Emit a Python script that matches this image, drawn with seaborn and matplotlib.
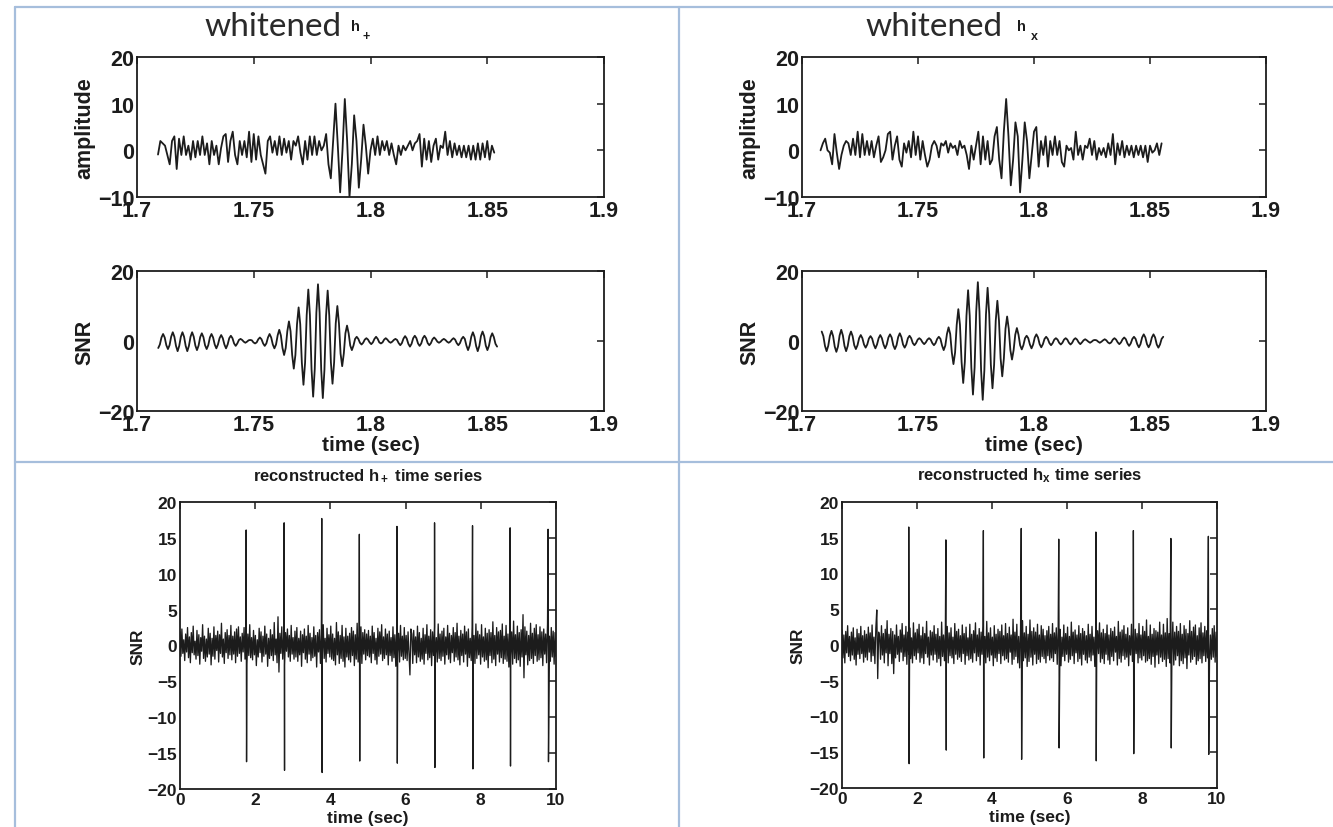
import numpy as np
import pandas as pd
import matplotlib
matplotlib.use("Agg")
import matplotlib.pyplot as plt
import seaborn as sns
from matplotlib.lines import Line2D

# ------------------------------------------------------------------ data
# whitened h+ amplitude, sampled every 1 ms from 1.709 s
amp_plus_t0 = 1.709
amp_plus_dt = 0.001
amp_plus = [
    -0.9, 2.0, 1.5, 1.0, -1.0, -3.0, 2.0, 3.0, -4.0, 2.5,
    -1.0, 3.0, -1.0, 1.0, -2.0, 2.0, -1.5, 2.0, -1.0, 3.0,
    -1.0, 1.5, -3.0, 2.0, -1.0, 1.0, -3.0, 0.5, 3.0, 3.5,
    -2.5, 2.0, 4.0, -1.0, -3.0, 2.0, -1.0, 2.0, -1.5, 4.0,
    -2.5, 3.5, -2.0, 3.0, -1.0, -3.0, -5.0, 2.0, 3.0, -0.5,
    2.0, -1.0, 3.0, -1.0, 2.5, -0.5, 2.0, -2.0, 2.0, 1.0,
    3.0, -0.5, -3.0, 2.0, -2.0, 3.0, -1.0, 3.0, -1.0, 2.0,
    0.0, 1.0, 3.5, -3.0, -6.0, 2.0, 10.0, 1.0, -9.0, 0.0,
    11.0, 2.0, -10.0, -3.0, 7.5, 2.0, -8.0, -2.0, 5.5, 1.0,
    -5.0, 0.0, 2.5, -1.0, 3.0, -1.0, 2.0, 0.0, 2.0, -1.0,
    1.5, -1.0, -3.0, 1.0, -1.0, 1.0, 0.0, 1.0, 2.0, 0.0,
    1.5, 2.0, 3.5, -3.5, 2.5, -2.0, 2.0, -2.5, 1.0, 2.5,
    -2.0, 1.0, 0.5, 4.0, -1.0, 2.0, -1.5, 1.5, -1.0, 1.0,
    -1.5, 1.0, -1.5, 1.0, -2.0, 1.0, -2.0, 1.5, -2.0, 1.5,
    -1.5, 2.0, -2.0, 1.0, -0.5,
]

# whitened hx amplitude, sampled every 1 ms from 1.708 s
amp_cross_t0 = 1.708
amp_cross_dt = 0.001
amp_cross = [
    0.0, 1.5, 2.5, 0.0, -0.5, -3.0, 3.5, -0.5, -4.0, -1.0,
    1.0, 2.0, 1.5, -1.0, 2.5, -1.0, 4.0, -1.5, 3.5, -1.0,
    2.0, -1.0, 2.0, -1.5, 1.0, 3.0, -2.5, -1.5, 0.0, 3.5,
    4.0, -2.0, 1.0, 3.0, -2.0, -3.5, 1.5, -0.5, 2.0, -1.5,
    4.0, -1.0, 3.0, -2.0, 2.0, -1.0, -3.5, -2.0, 1.0, 2.0,
    1.0, -1.5, 1.5, 1.0, 2.0, -0.5, 1.5, 0.5, 1.0, -1.0,
    2.0, 0.5, 1.0, -1.0, -4.0, 1.0, -2.0, 1.0, 4.0, -3.0,
    3.0, -2.0, 2.0, -3.0, -2.0, 3.0, 5.0, -2.0, -6.0, 4.0,
    11.0, 3.0, -7.5, -2.0, 6.0, 3.0, -9.0, -2.0, 6.0, 2.0,
    -6.0, -1.0, 4.0, 5.0, -3.5, 2.0, -1.0, 3.0, -3.5, 2.0,
    -1.0, 3.0, -1.0, 2.0, -2.5, -3.5, 1.0, 0.0, 0.5, -2.0,
    4.0, -1.0, 1.0, -2.0, 1.0, 0.5, 2.5, -1.0, 2.0, -2.0,
    0.5, -1.0, 0.5, -1.5, 1.5, -1.0, 3.5, -3.0, 1.5, -1.0,
    2.0, -1.5, 1.0, -1.0, 1.0, -1.5, 1.0, -1.0, 1.0, -1.5,
    1.0, -2.5, 1.0, -0.5, 0.0, 1.5, -1.0, 1.5,
]

# SNR (matched filter output) for h+
snr_plus_t0 = 1.7091
snr_plus_dt = 0.000691
snr_plus = [
    -2.0, -1.0,
    1.0, 2.0, 1.0, -1.2, -2.3, -1.2, 1.2, 2.5, 1.2, -1.4, -2.9, -1.4,
    1.2, 2.5, 1.2, -1.4, -2.9, -1.4, 1.2, 2.5, 1.2, -1.3, -2.6, -1.3,
    1.1, 2.2, 1.1, -1.2, -2.3, -1.2, 1.0, 2.0, 1.0, -1.0, -2.1, -1.0,
    0.8, 1.7, 0.8, -1.0, -2.1, -1.0, 0.8, 1.5, 0.8, -0.7, -1.4, -0.7,
    0.3, 0.6, 0.3, -0.2, -0.5, -0.2, 0.2, 0.3, 0.2, -0.4, -0.7, -0.4,
    0.5, 1.0, 0.5, -0.7, -1.4, -0.7, 1.0, 2.0, 1.0, -1.0, -2.1, -1.0,
    1.6, 3.2, 1.6, -2.0, -4.0, -2.0, 2.8, 5.6, 2.8, -4.0, -7.9, -4.0,
    4.8, 9.6, 4.8, -6.2, -12.5, -6.2, 7.4, 14.7, 7.4, -8.0, -15.9, -8.0,
    8.1, 16.2, 8.1, -8.2, -16.3, -8.2, 7.2, 14.4, 7.2, -6.1, -12.2, -6.1,
    5.0, 10.0, 5.0, -3.6, -7.2, -3.6, 2.2, 4.4, 2.2, -1.3, -2.6, -1.3,
    0.6, 1.2, 0.6, -0.5, -1.0, -0.5, 0.4, 0.8, 0.4, -0.4, -0.9, -0.4,
    0.6, 1.2, 0.6, -0.4, -0.7, -0.4, 0.4, 0.8, 0.4, -0.2, -0.5, -0.2,
    0.3, 0.6, 0.3, -0.6, -1.2, -0.6, 0.7, 1.4, 0.7, -0.8, -1.6, -0.8,
    0.8, 1.5, 0.8, -0.7, -1.4, -0.7, 0.8, 1.5, 0.8, -0.6, -1.2, -0.6,
    0.5, 1.0, 0.5, -0.2, -0.5, -0.2, 0.3, 0.6, 0.3, -0.2, -0.5, -0.2,
    0.4, 0.8, 0.4, -0.6, -1.2, -0.6, 0.6, 1.2, 0.6, -1.3, -2.6, -1.3,
    1.2, 2.5, 1.2, -1.4, -2.9, -1.4, 1.4, 2.7, 1.4, -1.3, -2.6, -1.3,
    1.1, 2.2, 1.1,
    -0.8, -1.6,
]

# SNR for hx
snr_cross_t0 = 1.7085
snr_cross_dt = 0.000701
snr_cross = [
    2.7, 1.4,
    -1.4, -2.9, -1.4, 1.4, 2.9, 1.4, -1.6, -3.1, -1.6, 1.6, 3.2, 1.6,
    -1.4, -2.9, -1.4, 1.4, 2.7, 1.4, -1.2, -2.3, -1.2, 0.8, 1.7, 0.8,
    -1.0, -1.9, -1.0, 0.7, 1.4, 0.7, -1.0, -2.1, -1.0, 0.8, 1.7, 0.8,
    -1.0, -2.1, -1.0, 1.0, 1.9, 1.0, -1.2, -2.3, -1.2, 1.1, 2.2, 1.1,
    -1.0, -1.9, -1.0, 0.8, 1.5, 0.8, -0.6, -1.2, -0.6, 0.4, 0.8, 0.4,
    -0.4, -0.9, -0.4, 0.4, 0.8, 0.4, -0.6, -1.2, -0.6, 0.6, 1.2, 0.6,
    -1.3, -2.6, -1.3, 2.0, 3.9, 2.0, -3.3, -6.6, -3.3, 4.6, 9.1, 4.6,
    -6.0, -12.0, -6.0, 7.2, 14.5, 7.2, -7.6, -15.3, -7.6, 8.4, 16.8, 8.4,
    -8.4, -16.8, -8.4, 7.6, 15.2, 7.6, -6.8, -13.5, -6.8, 5.8, 11.5, 5.8,
    -5.0, -10.1, -5.0, 3.5, 7.0, 3.5, -2.6, -5.3, -2.6, 1.8, 3.7, 1.8,
    -1.2, -2.4, -1.2, 0.8, 1.5, 0.8, -1.0, -2.1, -1.0, 1.0, 1.9, 1.0,
    -0.9, -1.8, -0.9, 0.6, 1.2, 0.6, -0.6, -1.2, -0.6, 0.4, 0.8, 0.4,
    -0.5, -1.0, -0.5, 0.4, 0.8, 0.4, -0.5, -1.0, -0.5, 0.4, 0.8, 0.4,
    -0.4, -0.9, -0.4, 0.2, 0.5, 0.2, -0.2, -0.5, -0.2, 0.2, 0.3, 0.2,
    -0.2, -0.5, -0.2, 0.2, 0.5, 0.2, -0.4, -0.7, -0.4, 0.4, 0.8, 0.4,
    -0.4, -0.9, -0.4, 0.5, 1.0, 0.5, -0.7, -1.4, -0.7, 0.6, 1.2, 0.6,
    -0.9, -1.8, -0.9, 1.0, 1.9, 1.0, -0.9, -1.8, -0.9, 1.0, 1.9, 1.0,
    -1.0, -1.9, -1.0,
    0.6, 1.2,
]

# reconstructed 10 s time series: background noise + injected events
recon_span = [0.0, 10.0]
noise_plus = [
    1.9, -1.5, 2.3, -1.1, 0.8, -2.1, 1.6, -0.9, 2.5, -1.7, 1.2, -2.4, 1.8, -1.0, 2.7, -1.3, 0.6, -1.9, 2.1, -1.4,
    1.5, -2.6, 1.1, -0.8, 2.9, -1.8, 1.3, -2.2, 0.9, -1.6, 2.4, -1.2, 1.7, -2.7, 1.0, -1.5, 2.6, -1.9, 1.4, -0.7,
    2.0, -2.3, 1.5, -1.1, 3.1, -1.6, 0.9, -2.5, 1.8, -1.0, 2.2, -1.8, 1.4, -1.3, 2.8, -2.0, 1.3, -1.2, 1.9, -2.4,
    2.3, -1.5, 2.6, -1.1, 1.2, -2.2, 1.7, -0.9, 2.5, -1.9, 1.0, -2.6, 1.6, -1.4, 2.9, -1.7, 1.1, -2.0, 2.1, -1.3,
    1.4, -2.8, 0.8, -1.6, 2.4, -1.0, 1.9, -2.3, 1.3, -1.5, 2.7, -1.2, 1.6, -2.9, 1.0, -1.8, 2.2, -1.4, 1.5, -2.1,
    3.2, -1.3, 0.9, -2.4, 4.0, -3.7, 1.7, -1.1, 2.6, -1.9, 1.2, -2.7, 1.8, -0.8, 2.3, -1.6, 1.4, -2.2, 2.8, -1.2,
    1.1, -1.9, 2.0, -1.6, 2.5, -2.2, 1.0, -1.3, 2.0, -2.9, 1.5, -1.0, 2.3, -1.9, 1.3, -2.4, 2.8, -1.2, 1.7, -2.1,
    1.1, -1.7, 2.6, -1.5, 1.4, -3.0, 1.8, -0.9, 2.2, -2.5, 1.6, -1.4, 2.9, -1.8, 1.0, -2.3, 2.4, -1.1, 1.5, -1.6,
    2.7, -1.9, 1.6, -2.1, 1.0, -2.7, 3.2, -1.3, 1.9, -2.5, 1.4, -1.8, 2.8, -2.2, 1.2, -3.0, 2.4, -1.6, 1.3, -2.0,
    1.7, -2.3, 2.5, -1.4, 2.0, -2.8, 1.5, -1.9, 3.1, -2.3, 1.3, -1.7, 2.6, -2.5, 1.8, -1.2, 2.2, -2.0, 1.6, -1.4,
    2.1, -1.6, 1.3, -2.4, 2.7, -1.1, 1.8, -2.0, 1.0, -2.6, 2.4, -1.5, 1.9, -1.2, 2.9, -2.1, 1.2, -1.8, 2.3, -1.3,
    1.6, -2.7, 2.0, -1.4, 1.1, -2.2, 2.6, -1.7, 1.5, -2.9, 2.2, -1.0, 1.7, -2.3, 2.8, -1.5, 1.3, -2.0, 2.5, -1.8,
    1.4, -2.1, 1.9, -1.2, -4.1, 2.3, 1.6, -2.5, 2.1, -1.3, 1.2, -2.4, 2.7, -1.6, 1.8, -2.2, 1.0, -1.9, 2.4, -2.6,
    1.5, -1.1, 2.9, -2.0, 1.3, -1.7, 2.2, -2.8, 1.9, -1.4, 2.6, -1.2, 1.1, -2.3, 3.0, -1.8, 1.6, -2.1, 2.0, -1.5,
    2.4, -2.6, 1.2, -1.3, 2.8, -1.9, 1.7, -2.4, 1.4, -1.0, 2.5, -2.2, 1.8, -1.6, 3.1, -2.0, 1.3, -2.7, 2.1, -1.4,
    1.6, -2.3, 2.7, -1.2, 1.9, -2.9, 2.3, -1.7, 1.0, -2.1, 2.6, -1.5, 1.4, -2.5, 3.0, -1.8, 2.0, -1.3, 1.5, -2.6,
    2.9, -1.6, 1.2, -2.2, 2.4, -2.0, 1.7, -3.1, 2.2, -1.4, 1.8, -2.4, 3.3, -1.9, 1.4, -2.8, 2.5, -1.2, 1.9, -2.3,
    2.1, -1.7, 3.0, -2.5, 1.3, -1.9, 2.8, -2.2, 1.6, -3.0, 2.3, -1.5, 1.9, -2.6, 3.4, -1.8, 1.5, -2.4, 2.7, -2.0,
    1.8, -2.9, 2.2, -1.6, 4.3, -4.5, 2.6, -1.3, 2.0, -2.7, 1.4, -2.1, 3.1, -1.8, 1.7, -2.5, 2.4, -1.4, 2.9, -2.2,
    1.5, -2.0, 2.6, -1.7, 1.9, -2.8, 2.3, -1.2, 1.6, -2.4, 3.0, -1.9, 1.3, -2.2, 2.5, -1.6, 2.0, -2.6, 1.8, -1.5,
]
noise_cross = [
    2.1, -1.8, 1.4, -2.5, 1.9, -1.1, 2.7, -1.6, 1.2, -2.2, 1.8, -1.4, 2.4, -2.0, 1.0, -2.8, 2.2, -1.3, 1.6, -1.9,
    2.6, -1.2, 1.3, -2.4, 2.0, -1.7, 1.5, -2.1, 2.5, -1.0, 1.7, -2.3, 2.8, -1.5, 1.1, -2.6, 2.3, 4.9, -4.7, 1.8,
    1.2, -2.0, 2.7, -1.4, 1.6, -2.5, 2.2, -1.1, 3.4, -2.9, 1.5, -1.2, 2.3, -2.6, 1.9, -4.0, 1.4, -1.8, 2.8, -1.3,
    1.2, -2.3, 2.1, -1.0, 3.0, -2.2, 1.4, -1.6, 2.6, -2.7, 1.8, -1.3, 2.4, -1.9, 1.0, -2.5, 3.1, -1.5, 1.7, -2.0,
    2.2, -1.1, 2.9, -2.4, 1.3, -1.8, 2.5, -2.6, 1.6, -1.2, 3.3, -1.7, 1.1, -2.8, 2.0, -1.4, 1.8, -2.1, 2.7, -1.3,
    1.5, -2.4, 2.3, -1.9, 1.2, -2.9, 3.2, -1.6, 1.4, -2.2, 2.1, -1.0, 2.6, -2.5, 1.7, -1.5, 2.4, -1.8, 1.1, -2.6,
    3.0, -1.3, 1.9, -2.0, 2.2, -1.7, 1.3, -2.3, 2.8, -1.2, 1.6, -2.7, 2.5, -1.5, 1.0, -2.1, 2.9, -1.9, 1.5, -2.4,
    2.0, -1.1, 3.1, -2.2, 1.4, -1.6, 2.3, -2.8, 1.8, -1.3, 2.6, -2.0, 1.2, -2.5, 3.3, -1.7, 1.7, -2.2, 2.4, -1.4,
    1.1, -2.9, 2.7, -1.8, 1.5, -2.3, 2.2, -1.2, 1.9, -2.6, 2.8, -1.5, 1.3, -2.1, 3.0, -1.9, 1.6, -2.4, 2.5, -1.0,
    1.4, -2.7, 3.6, -2.0, 1.8, -1.6, 2.9, -2.5, 1.2, -3.2, 2.3, -1.4, 3.4, -2.2, 1.7, -1.8, 2.6, -3.0, 1.5, -2.3,
    3.5, -1.7, 1.9, -2.8, 2.4, -1.3, 1.8, -2.6, 2.9, -2.0, 1.4, -2.4, 2.7, -1.6, 2.2, -1.9, 1.3, -2.5, 2.0, -1.5,
    2.6, -2.1, 1.5, -1.8, 3.0, -2.3, 1.7, -1.2, 2.4, -2.7, 1.9, -1.4, 2.2, -2.9, 1.1, -1.6, 2.8, -2.2, 1.6, -1.3,
    2.5, -2.4, 1.2, -2.0, 3.2, -1.5, 1.8, -2.6, 2.1, -1.1, 1.4, -2.3, 2.7, -1.9, 1.6, -2.8, 2.3, -1.3, 1.9, -2.1,
    1.3, -2.5, 2.9, -1.7, 1.5, -2.2, 2.6, -1.4, 1.1, -3.0, 2.4, -1.8, 2.0, -1.2, 3.1, -2.4, 1.7, -1.9, 2.2, -2.6,
    1.6, -1.3, 2.8, -2.1, 1.4, -2.7, 2.3, -1.6, 1.9, -2.2, 2.5, -1.0, 1.2, -2.8, 3.3, -1.9, 1.8, -2.4, 2.1, -1.5,
    2.7, -2.0, 1.5, -1.7, 2.4, -2.9, 1.3, -1.4, 2.9, -2.3, 1.7, -2.6, 2.2, -1.2, 1.6, -2.5, 3.0, -1.8, 1.4, -2.1,
    2.6, -1.5, 1.9, -2.4, 3.5, -2.2, 1.2, -1.9, 2.8, -2.7, 1.5, -1.6, 2.3, -3.1, 2.0, -1.4, 1.8, -2.6, 3.2, -1.7,
    1.4, -2.3, 2.9, -2.0, 1.7, -3.0, 3.7, -1.9, 1.6, -2.5, 2.4, -1.3, 3.2, -2.8, 1.8, -2.1, 2.6, -1.5, 1.9, -2.9,
    3.0, -2.2, 1.5, -2.6, 2.7, -1.8, 2.2, -3.3, 1.6, -1.4, 3.4, -2.4, 1.9, -2.0, 2.5, -1.6, 2.8, -2.7, 1.3, -2.2,
    2.4, -1.9, 3.1, -2.5, 1.7, -1.5, 2.6, -2.3, 2.0, -1.8, 2.9, -2.6, 1.4, -2.0, 2.3, -1.7, 2.7, -2.4, 1.8, -1.6,
]
spike_plus_t = [1.76, 2.77, 3.77, 4.77, 5.77, 6.77, 7.78, 8.78, 9.79]
spike_plus_hi = [16.1, 17.1, 17.7, 15.5, 16.6, 17.1, 16.7, 16.4, 16.2]
spike_plus_lo = [-16.2, -17.4, -17.7, -16.1, -16.4, -17.0, -17.2, -16.8, -16.2]
spike_cross_t = [1.78, 2.77, 3.77, 4.78, 5.78, 6.77, 7.77, 8.77, 9.77]
spike_cross_hi = [16.5, 14.7, 16.0, 16.3, 14.8, 15.8, 16.0, 14.9, 15.2]
spike_cross_lo = [-16.6, -14.7, -15.8, -16.0, -14.4, -16.2, -15.2, -14.4, -15.3]

top_xticks = [1.7, 1.75, 1.8, 1.85, 1.9]
top_xticklabels = ["1.7", "1.75", "1.8", "1.85", "1.9"]
amp_yticks = [-10, 0, 10, 20]
amp_yticklabels = ["\u221210", "0", "10", "20"]
snr_yticks = [-20, 0, 20]
snr_yticklabels = ["\u221220", "0", "20"]
bot_xticks = [0, 2, 4, 6, 8, 10]
bot_xticklabels = ["0", "2", "4", "6", "8", "10"]
bot_yticks = [-20, -15, -10, -5, 0, 5, 10, 15, 20]
bot_yticklabels = ["\u221220", "\u221215", "\u221210", "\u22125", "0", "5", "10", "15", "20"]


# ------------------------------------------------------------------ helpers
def uniform_series(t0, dt, vals):
    return pd.DataFrame({"t": t0 + dt * np.arange(len(vals)), "v": vals})


def recon_series(noise, st, hi, lo):
    nt = np.linspace(recon_span[0], recon_span[1], len(noise))
    df = pd.concat([
        pd.DataFrame({"t": nt, "v": noise}),
        pd.DataFrame({"t": st, "v": hi}),
        pd.DataFrame({"t": np.asarray(st) + 0.01, "v": lo}),
    ]).sort_values("t", kind="mergesort")
    return df


sns.set_style("white")
plt.rcParams["font.family"] = ["Liberation Sans", "DejaVu Sans"]
plt.rcParams["font.weight"] = "bold"
plt.rcParams["mathtext.fontset"] = "custom"
plt.rcParams["mathtext.rm"] = "Liberation Sans:bold"
plt.rcParams["mathtext.it"] = "Liberation Sans:bold"
plt.rcParams["mathtext.bf"] = "Liberation Sans:bold"

W, H = 1333, 828
fig = plt.figure(figsize=(W / 100, H / 100), dpi=100, facecolor="white")
INK = "#1c1c1c"


def rect(left, top, right, bottom):
    return [left / W, 1 - bottom / H, (right - left) / W, (bottom - top) / H]


def style_axes(ax, fs, pad):
    for s in ax.spines.values():
        s.set_linewidth(1.3)
        s.set_color(INK)
    ax.tick_params(direction="in", length=5, width=1.1, top=True, right=True,
                   labelsize=fs, pad=pad, colors=INK)
    for lab in ax.get_xticklabels() + ax.get_yticklabels():
        lab.set_fontweight("bold")


def top_panel(r, df, yticks, ylabels, ylim, ylab, xlabel=False):
    ax = fig.add_axes(r)
    sns.lineplot(data=df, x="t", y="v", ax=ax, color=INK, linewidth=1.3,
                 estimator=None, sort=False)
    ax.set_xlim(1.7, 1.9)
    ax.set_ylim(*ylim)
    ax.set_xticks(top_xticks)
    ax.set_xticklabels(top_xticklabels)
    ax.set_yticks(yticks)
    ax.set_yticklabels(ylabels)
    style_axes(ax, 15.5, 2)
    ax.set_ylabel(ylab, fontsize=15.5, fontweight="bold", va="center", color=INK)
    ax.yaxis.set_label_coords(-0.112, 0.5)
    ax.set_xlabel("")
    if xlabel:
        ax.text(0.5, -0.24, "time (sec)", transform=ax.transAxes, ha="center",
                va="center", fontsize=15, fontweight="bold", color=INK)
    return ax


def bottom_panel(r, df, title, labx):
    ax = fig.add_axes(r)
    sns.lineplot(data=df, x="t", y="v", ax=ax, color=INK, linewidth=0.95,
                 estimator=None, sort=False)
    ax.set_xlim(0, 10)
    ax.set_ylim(-20, 20)
    ax.set_xticks(bot_xticks)
    ax.set_xticklabels(bot_xticklabels)
    ax.set_yticks(bot_yticks)
    ax.set_yticklabels(bot_yticklabels)
    style_axes(ax, 12.5, 2)
    ax.set_ylabel("SNR", fontsize=12.5, fontweight="bold", va="center", color=INK)
    ax.yaxis.set_label_coords(labx, 0.5)
    ax.set_xlabel("")
    ax.text(0.5, -0.1, "time (sec)", transform=ax.transAxes, ha="center",
            va="center", fontsize=12.5, fontweight="bold", color=INK)
    ax.text(0.5, 1.095, title, transform=ax.transAxes, ha="center",
            va="center", fontsize=12, fontweight="bold", color=INK)
    return ax


# ------------------------------------------------------------------ panels
top_panel(rect(137, 58, 604, 198), uniform_series(amp_plus_t0, amp_plus_dt, amp_plus),
          amp_yticks, amp_yticklabels, (-10, 20), "amplitude")
top_panel(rect(137, 272, 604, 412), uniform_series(snr_plus_t0, snr_plus_dt, snr_plus),
          snr_yticks, snr_yticklabels, (-20, 20), "SNR", xlabel=True)
top_panel(rect(802, 58, 1266, 198), uniform_series(amp_cross_t0, amp_cross_dt, amp_cross),
          amp_yticks, amp_yticklabels, (-10, 20), "amplitude")
top_panel(rect(802, 272, 1266, 412), uniform_series(snr_cross_t0, snr_cross_dt, snr_cross),
          snr_yticks, snr_yticklabels, (-20, 20), "SNR", xlabel=True)

bottom_panel(rect(180, 503, 556, 790),
             recon_series(noise_plus, spike_plus_t, spike_plus_hi, spike_plus_lo),
             r"reconstructed h$_+$ time series", -0.112)
bottom_panel(rect(842, 503, 1217, 789),
             recon_series(noise_cross, spike_cross_t, spike_cross_hi, spike_cross_lo),
             r"reconstructed h$_x$ time series", -0.117)


# ------------------------------------------------------------------ headings
def ftext(x, y, s, **kw):
    fig.text(x / W, 1 - y / H, s, **kw)


ftext(273, 27, "whitened", family="Lato", fontsize=24, fontweight="normal",
      ha="center", va="center", color="#2a2a2a")
ftext(355, 27, "h", fontsize=10.5, fontweight="bold", ha="center", va="center", color=INK)
ftext(366, 37, "+", fontsize=9, fontweight="bold", ha="center", va="center", color=INK)
ftext(934, 27, "whitened", family="Lato", fontsize=24, fontweight="normal",
      ha="center", va="center", color="#2a2a2a")
ftext(1021, 27, "h", fontsize=10.5, fontweight="bold", ha="center", va="center", color=INK)
ftext(1034, 37, "x", fontsize=9, fontweight="bold", ha="center", va="center", color=INK)

# ------------------------------------------------------------------ table rules
RULE = "#a6bedc"
for (x0, y0, x1, y1) in [(15, 8, 1333, 8), (15, 8, 15, 828), (679, 8, 679, 828),
                         (15, 463, 1333, 463)]:
    fig.add_artist(Line2D([x0 / W, x1 / W], [1 - y0 / H, 1 - y1 / H],
                          transform=fig.transFigure, color=RULE, linewidth=1.6))

fig.savefig("out.png", dpi=100, facecolor="white")
